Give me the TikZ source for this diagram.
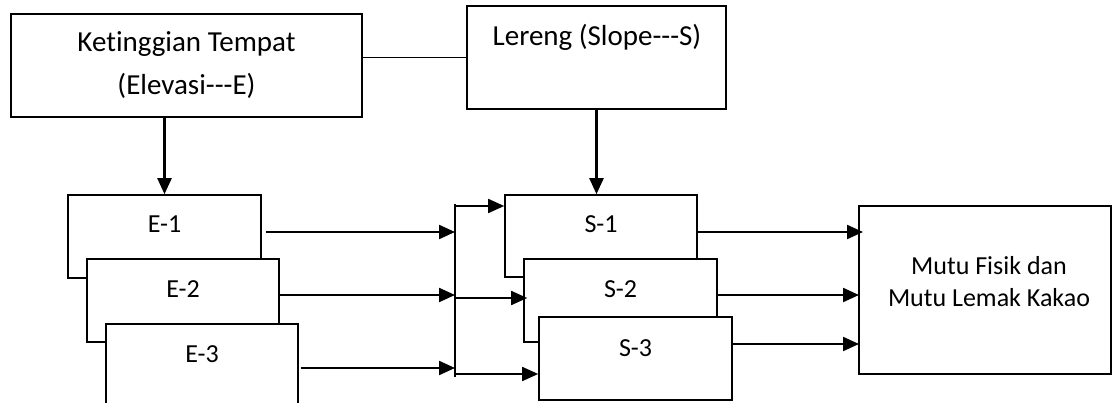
\documentclass[tikz,border=0pt]{standalone}
\usepackage{fontspec}
% plain family: no TeX mapping and no ligature features, so "---" and "ti" stay as typed
\newfontfamily\carlito{Carlito}[RawFeature={-liga;-clig;-dlig;-calt}]
\usetikzlibrary{arrows.meta}
\begin{document}
\begin{tikzpicture}[x=1pt,y=-1pt,
  box/.style={draw, line width=1.6pt, fill=white, inner sep=0pt},
  heavybox/.style={box, line width=2pt},
  lbl/.style={inner sep=0pt, anchor=base, font=\carlito\fontsize{26}{30}\selectfont},
  head/.style={inner sep=0pt, anchor=base, align=center, font=\carlito\fontsize{29}{43}\selectfont},
  mtext/.style={inner sep=0pt, anchor=base, align=center, font=\carlito\fontsize{26}{32}\selectfont},
  arr/.style={line width=2.2pt, -{Triangle[length=16pt,width=14pt]}},
  thinarr/.style={line width=1.8pt, -{Triangle[length=16pt,width=14pt]}},
  link/.style={line width=1.8pt}]
\clip (0,0) rectangle (1117,403);

% top boxes
\node[heavybox, minimum width=351pt, minimum height=103pt] (elev) at (186.5,65.5) {};
\node[box, minimum width=259pt, minimum height=103pt] (lereng) at (596.5,57.5) {};
% multi-line texts sit on the baseline of their last line
\node[head] (elevt) at (186.5,95) {Ketinggian Tempat\\(Elevasi---E)};
\node[head] (lerengt) at (597,46) {Lereng (Slope---S)};

% elevation classes (stacked)
\node[box, minimum width=193pt, minimum height=83pt] (e1) at (164.5,236.5) {};
\node[box, minimum width=192pt, minimum height=83pt] (e2) at (183,300.5) {};
\node[box, minimum width=192pt, minimum height=83pt] (e3) at (202,365.5) {};
\node[lbl] (e1t) at (164.5,233) {E-1};
\node[lbl] (e2t) at (183,297.5) {E-2};
\node[lbl] (e3t) at (202,362.5) {E-3};

% slope classes (stacked)
\node[box, minimum width=192pt, minimum height=82pt] (s1) at (601,236) {};
\node[box, minimum width=193pt, minimum height=83pt] (s2) at (620.5,300.5) {};
\node[box, minimum width=193pt, minimum height=83pt] (s3) at (635.5,358.5) {};
\node[lbl] (s1t) at (601,233) {S-1};
\node[lbl] (s2t) at (620.5,298) {S-2};
\node[lbl] (s3t) at (635.5,356) {S-3};

% result box
\node[heavybox, minimum width=252pt, minimum height=168pt] (mutu) at (985,290) {};
\node[mtext] (mutut) at (989,307) {Mutu Fisik dan\\Mutu Lemak Kakao};

% connectors between the top boxes
\draw[link] (elev.east |- lereng.west) -- (lereng.west);
\draw[arr] (elev.south -| e1.north) -- (e1.north);
\draw[arr] (lereng.south) -- (lereng.south |- s1.north);

% collecting bus between E and S columns
\coordinate (busT) at (455,204);
\coordinate (busB) at (455,377);
\coordinate (in1) at (455,232);
\coordinate (in2) at (455,295);
\coordinate (in3) at (455,368);
\coordinate (out1) at (455,206);
\coordinate (out2) at (455,298);
\coordinate (out3) at (455,374);
\draw[link] (busT) -- (busB);
\draw[arr, shorten <=4pt] (e1.east |- in1) -- (in1);
\draw[arr] (e2.east |- in2) -- (in2);
\draw[arr, shorten <=2pt] (e3.east |- in3) -- (in3);
\draw[thinarr] (out1) -- (s1.west |- out1);
\draw[thinarr, shorten >=-4pt] (out2) -- (s2.west |- out2);
\draw[thinarr] (out3) -- (s3.west |- out3);

% slope classes into the result
\coordinate (m1) at (859,232);
\coordinate (m2) at (859,295);
\coordinate (m3) at (859,344);
\draw[arr, shorten >=-4pt] (s1.east |- m1) -- (m1);
\draw[arr] (s2.east |- m2) -- (m2);
\draw[arr] (s3.east |- m3) -- (m3);
\end{tikzpicture}
\end{document}
